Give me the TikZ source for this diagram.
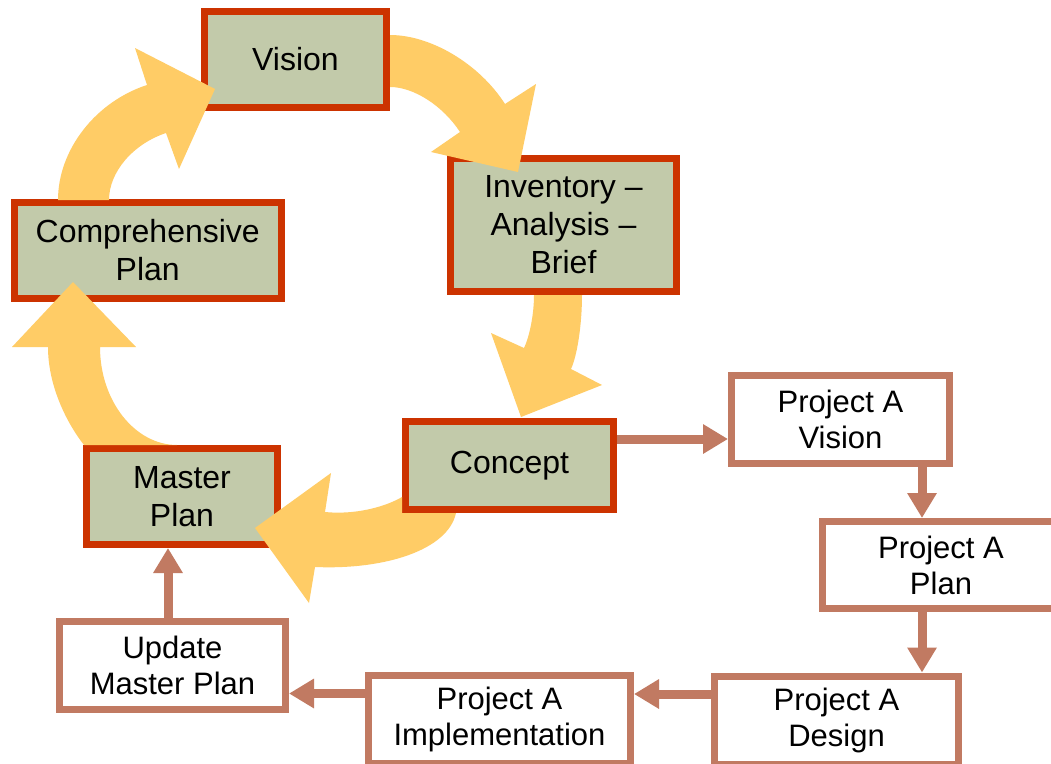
\documentclass[tikz,border=0pt]{standalone}
\usepackage{fontspec}
\setmainfont{Liberation Sans}
\usetikzlibrary{arrows.meta}
\definecolor{boxgreen}{RGB}{194,202,170}
\definecolor{boxred}{RGB}{204,51,0}
\definecolor{linkbrown}{RGB}{193,122,98}
\definecolor{turnyellow}{RGB}{255,204,102}

\begin{document}
\begin{tikzpicture}[x=1pt,y=-1pt,
  stage/.style={draw=boxred, fill=boxgreen, line width=7pt, outer sep=3.5pt,
    inner sep=0pt, align=center, font=\fontsize{32}{38}\selectfont},
  project/.style={draw=linkbrown, fill=white, line width=7pt, outer sep=3.5pt,
    inner sep=0pt, align=center, font=\fontsize{31}{36}\selectfont},
  link/.style={draw=linkbrown, line width=9pt, -{Triangle[length=25pt,width=28pt]}},
  turn/.style={fill=turnyellow}]

\useasboundingbox (0,0) rectangle (1051,763);
\fill[white] (0,0) rectangle (1051,763);
\clip (0,0) rectangle (1051,763);

% planning cycle
\node[stage, minimum width=182pt, minimum height=96pt] (vision) at (295.5,59.5) {Vision};
\node[stage, minimum width=267.5pt, minimum height=96pt] (comp) at (147.75,250.5) {Comprehensive\\Plan};
\node[stage, minimum width=226pt, minimum height=133pt] (inv) at (563.5,225) {Inventory –\\Analysis –\\Brief};
\node[stage, minimum width=208pt, minimum height=88pt] (concept) at (509.5,465.5) {Concept};
\node[stage, minimum width=191pt, minimum height=96pt] (master) at (182,496.5) {Master\\Plan};

% project track
\node[project, minimum width=218pt, minimum height=88pt] (pav) at (840.5,419.5) {Project A\\Vision};
\node[project, minimum width=237pt, minimum height=87pt] (plan) at (941,565) {Project A\\Plan};
\node[project, minimum width=244pt, minimum height=88pt] (design) at (836.5,720) {Project A\\Design};
\node[project, minimum width=262pt, minimum height=88pt] (impl) at (499.5,719.5) {Project A\\Implementation};
\node[project, minimum width=226pt, minimum height=88pt] (update) at (172.5,665.5) {Update\\Master Plan};

% curved cycle arrows
\fill[turn] (58,200) .. controls (58,150) and (95.4,101.8) .. (147,85)
  -- (135,48) -- (215,89) -- (179,169) -- (166,133)
  .. controls (133,144) and (109,172) .. (109,200) -- cycle;
\fill[turn] (390,35) .. controls (431,35) and (479.5,64) .. (505,104)
  -- (536,84) -- (518,172) -- (431,152) -- (460,132)
  .. controls (443,106) and (414,87) .. (390,87) -- cycle;
\fill[turn] (582,295) .. controls (582,324) and (577.4,355) .. (571,369)
  -- (602,385) -- (521,417) -- (491,333) -- (524,348)
  .. controls (529.8,335.8) and (534,313.6) .. (534,295) -- cycle;
\fill[turn] (456,513) .. controls (448,550) and (385,570) .. (315,567)
  -- (309,603) -- (255,528) -- (331,473) -- (325,512)
  .. controls (355,515) and (385,507) .. (402,497) -- (402,513) -- cycle;
\fill[turn] (177,445) .. controls (135,445) and (100,401) .. (100,347)
  -- (136,347) -- (73,282) -- (12,347) -- (48,347)
  .. controls (48,385) and (66,422) .. (84,445) -- cycle;

% project connectors
\coordinate (c1) at ([yshift=26.5pt]concept.east);
\draw[link] (c1) -- (c1 -| pav.west);
\coordinate (c2) at ([xshift=81.5pt]pav.south);
\draw[link] (c2) -- (c2 |- plan.north);
\coordinate (c3) at ([xshift=-19pt]plan.south);
\draw[link] (c3) -- (c3 |- design.north);
\coordinate (c4) at ([yshift=26pt]design.west);
\draw[link] (c4) -- (c4 -| impl.east);
\coordinate (c5) at ([yshift=26pt]impl.west);
\draw[link] (c5) -- (c5 -| update.east);
\coordinate (c6) at ([xshift=-4.5pt]update.north);
\draw[link] (c6) -- (c6 |- master.south);
\end{tikzpicture}
\end{document}
